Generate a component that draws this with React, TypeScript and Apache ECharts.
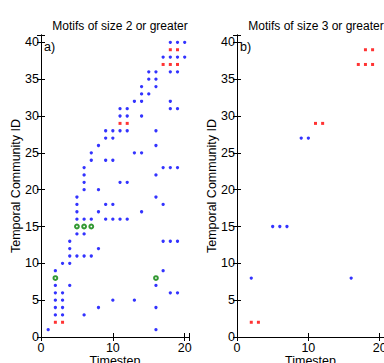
import React, { useEffect, useRef } from "react";
import * as echarts from "echarts";

const titles = ["Motifs of size 2 or greater", "Motifs of size 3 or greater"];
const panelTags = ["a)", "b)"];
const xTickValues = [0, 10, 20];
const yTickValues = [0, 5, 10, 15, 20, 25, 30, 35, 40];

// Panel a: blue points per timestep [timestep, community IDs]
const blueA: [number, number[]][] = [
  [1, [1]],
  [2, [3, 4, 5, 6, 7, 9]],
  [3, [3, 4, 5, 6, 10]],
  [4, [7, 10, 11, 12, 13]],
  [5, [11, 14, 16, 17, 18, 19]],
  [6, [3, 11, 14, 16, 20, 21, 22, 23]],
  [7, [11, 16, 24, 25]],
  [8, [4, 12, 17, 20, 26]],
  [9, [16, 18, 24, 27, 28]],
  [10, [5, 16, 18, 24, 27, 28]],
  [11, [16, 21, 28, 30, 31]],
  [12, [16, 21, 28, 30, 31]],
  [13, [5, 25, 32]],
  [14, [17, 25, 30, 32, 33, 34]],
  [15, [33, 35, 36]],
  [16, [1, 4, 7, 19, 22, 26, 28, 34, 35, 36]],
  [17, [9, 13, 18, 23, 38]],
  [18, [6, 13, 23, 31, 32, 36, 38, 40]],
  [19, [6, 13, 23, 31, 36, 38, 40]],
  [20, [38, 40]],
];
const redA: [number, number][] = [
  [2, 2], [3, 2], [11, 29], [12, 29], [17, 37], [18, 37], [19, 37], [18, 39], [19, 39],
];
const greenA: [number, number][] = [
  [5, 15], [6, 15], [7, 15], [2, 8], [16, 8],
];

// Panel b
const blueB: [number, number][] = [
  [9, 27], [10, 27], [5, 15], [6, 15], [7, 15], [2, 8], [16, 8],
];
const redB: [number, number][] = [
  [2, 2], [3, 2], [11, 29], [12, 29], [17, 37], [18, 37], [19, 37], [18, 39], [19, 39],
];

const FONT = "Arial";
const FS = 12.5;

export default function App() {
  const ref = useRef<HTMLDivElement>(null);
  useEffect(() => {
    if (!ref.current) return;
    const chart = echarts.init(ref.current, undefined, { renderer: "svg" });
    const blueAPts: [number, number][] = [];
    blueA.forEach(([t, ids]) => ids.forEach((v) => blueAPts.push([t, v])));

    const grids = [
      { left: 41, top: 35, width: 148, height: 302, outerBoundsMode: "none", containLabel: false },
      { left: 237, top: 35, width: 147, height: 302, outerBoundsMode: "none", containLabel: false },
    ];
    const lineStyle = { color: "#000", width: 1 };
    const xAxes: any[] = [];
    const yAxes: any[] = [];
    grids.forEach((_, i) => {
      xAxes.push({
        type: "value", gridIndex: i, position: "bottom", min: 0, max: 20.6, interval: 10,
        splitLine: { show: false },
        axisLine: { show: true, lineStyle },
        axisTick: { show: true, inside: true, length: 4, lineStyle },
        axisLabel: {
          color: "#000", fontFamily: FONT, fontSize: FS, margin: 4,
          formatter: (v: number) => (xTickValues.includes(v) ? String(v) : ""),
        },
        name: "Timestep", nameLocation: "middle", nameGap: 17, nameMoveOverlap: false,
        nameTextStyle: { color: "#000", fontFamily: FONT, fontSize: FS, verticalAlign: "top" },
      });
      xAxes.push({
        type: "value", gridIndex: i, position: "top", min: 0, max: 20.6, interval: 10,
        splitLine: { show: false },
        axisLine: { show: true, lineStyle },
        axisTick: { show: true, inside: true, length: 4, lineStyle },
        axisLabel: { show: false },
      });
      yAxes.push({
        type: "value", gridIndex: i, position: "left", min: 0, max: 41, interval: 5,
        splitLine: { show: false },
        axisLine: { show: true, lineStyle },
        axisTick: { show: true, inside: true, length: 4, lineStyle },
        axisLabel: {
          color: "#000", fontFamily: FONT, fontSize: FS, margin: 2,
          formatter: (v: number) => (yTickValues.includes(v) ? String(v) : ""),
        },
        name: "Temporal Community ID", nameLocation: "middle", nameGap: 19, nameMoveOverlap: false,
        nameTextStyle: { color: "#000", fontFamily: FONT, fontSize: FS },
      });
      yAxes.push({
        type: "value", gridIndex: i, position: "right", min: 0, max: 41, interval: 5,
        splitLine: { show: false },
        axisLine: { show: true, lineStyle },
        axisTick: { show: true, inside: true, length: 4, lineStyle },
        axisLabel: { show: false },
      });
    });

    const blue = "#0000ff";
    const red = "#ff0000";
    const green = "#008000";
    const titleStyle = { fontFamily: FONT, fontSize: 12, fontWeight: "normal", color: "#000" };
    const tagStyle = { fontFamily: FONT, fontSize: FS, fontWeight: "normal", color: "#000" };

    chart.setOption({
      animation: false,
      title: [
        { text: titles[0], left: 115, top: 15, textAlign: "center", textStyle: titleStyle },
        { text: titles[1], left: 311, top: 15, textAlign: "center", textStyle: titleStyle },
        { text: panelTags[0], left: 39, top: 35, textStyle: tagStyle },
        { text: panelTags[1], left: 235, top: 35, textStyle: tagStyle },
      ],
      grid: grids,
      xAxis: xAxes,
      yAxis: yAxes,
      series: [
        { type: "scatter", xAxisIndex: 0, yAxisIndex: 0, data: blueAPts, symbol: "circle", symbolSize: 3.3,
          itemStyle: { color: blue } },
        { type: "scatter", xAxisIndex: 0, yAxisIndex: 0, data: redA, symbol: "rect", symbolSize: 3,
          itemStyle: { color: red } },
        { type: "scatter", xAxisIndex: 0, yAxisIndex: 0, data: greenA, symbol: "emptyCircle", symbolSize: 3.8,
          itemStyle: { color: green, borderWidth: 1 } },
        { type: "scatter", xAxisIndex: 2, yAxisIndex: 2, data: blueB, symbol: "circle", symbolSize: 3.3,
          itemStyle: { color: blue } },
        { type: "scatter", xAxisIndex: 2, yAxisIndex: 2, data: redB, symbol: "rect", symbolSize: 3,
          itemStyle: { color: red } },
      ],
    });
    return () => chart.dispose();
  }, []);
  return <div ref={ref} style={{ width: 384, height: 363, position: "absolute", left: 0, top: 0, background: "#fff" }} />;
}
